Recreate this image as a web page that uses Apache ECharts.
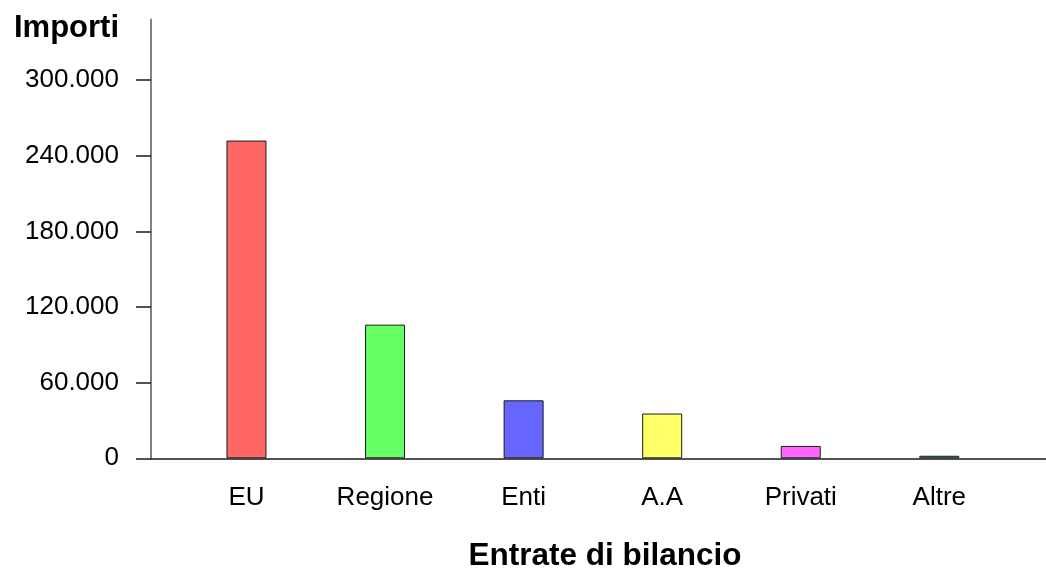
<!DOCTYPE html>
<html>
<head>
<meta charset="utf-8">
<script src="https://cdn.jsdelivr.net/npm/echarts@6/dist/echarts.min.js"></script>
<style>
html,body{margin:0;padding:0;background:#fff;}
#chart{width:1046px;height:570px;}
</style>
</head>
<body>
<div id="chart"></div>
<script>
const categories = ['EU', 'Regione', 'Enti', 'A.A', 'Privati', 'Altre'];
const values = [252000, 106000, 46000, 35500, 9800, 2000];
const barColors = ['#ff6666', '#66ff66', '#6666ff', '#ffff66', '#ff66ff', '#55b5b5'];
const yTicks = [0, 60000, 120000, 180000, 240000, 300000];
const yMax = 348000;
const yTitle = 'Importi';
const xTitle = 'Entrate di bilancio';

const FONT = "'Liberation Sans', Arial, Helvetica, sans-serif";
function fmt(v) {
  return String(v).replace(/\B(?=(\d{3})+(?!\d))/g, '.');
}

const chart = echarts.init(document.getElementById('chart'));
chart.setOption({
  backgroundColor: '#fff',
  animation: false,
  title: [
    { text: yTitle, right: 927, top: 13, padding: 0,
      textStyle: { fontFamily: FONT, fontSize: 31, fontWeight: 'bold', color: '#000' } },
    { text: xTitle, left: 605, textAlign: 'center', top: 540, padding: 0,
      textStyle: { fontFamily: FONT, fontSize: 31.5, fontWeight: 'bold', color: '#000' } }
  ],
  grid: [
    { left: 151, right: 0, top: 19.5, bottom: 111.7 },
    { left: 177.2, right: 37.4, top: 19.5, bottom: 111.7 }
  ],
  xAxis: [
    { type: 'category', gridIndex: 0, data: categories,
      axisLine: { show: true, lineStyle: { color: '#1a1a1a', width: 1.5 } },
      axisTick: { show: false }, axisLabel: { show: false }, splitLine: { show: false } },
    { type: 'category', gridIndex: 1, data: categories,
      axisLine: { show: false }, axisTick: { show: false },
      axisLabel: { fontFamily: FONT, fontSize: 26, color: '#000', margin: 27 },
      splitLine: { show: false } }
  ],
  yAxis: [
    { type: 'value', gridIndex: 0, min: 0, max: yMax,
      axisLine: { show: true, lineStyle: { color: '#808080', width: 2 } },
      axisTick: { show: true, length: 15, customValues: yTicks, lineStyle: { color: '#1a1a1a', width: 1.5 } },
      axisLabel: { fontFamily: FONT, fontSize: 26, color: '#000', margin: 32, customValues: yTicks,
        formatter: fmt },
      splitLine: { show: false } },
    { type: 'value', gridIndex: 1, min: 0, max: yMax,
      axisLine: { show: false }, axisTick: { show: false }, axisLabel: { show: false },
      splitLine: { show: false } }
  ],
  series: [{
    type: 'bar',
    xAxisIndex: 1,
    yAxisIndex: 1,
    barWidth: 40,
    z: 1,
    data: values.map((v, i) => ({
      value: v,
      itemStyle: { color: barColors[i], borderColor: '#1a1a1a', borderWidth: 1 }
    }))
  }]
});
</script>
</body>
</html>
